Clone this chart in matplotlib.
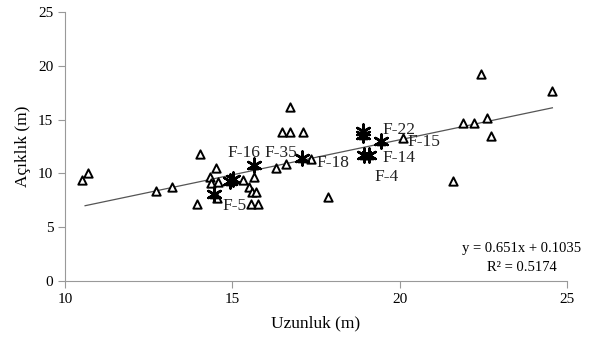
import matplotlib
matplotlib.use("Agg")
import matplotlib.pyplot as plt
import numpy as np

plt.rcParams["font.family"] = ["Liberation Serif", "DejaVu Serif"]

# triangle points (length, width)
tri_x = [10.5, 10.7, 12.72, 13.2, 13.96, 14.05, 14.33, 14.36, 14.5, 14.53, 14.58,
         15.33, 15.5, 15.6, 15.7, 15.56, 15.76, 15.66, 16.32, 16.62, 16.5, 16.72,
         17.1, 16.72, 17.34, 17.87, 20.1, 21.6, 21.9, 22.22, 22.62, 22.73, 22.43, 24.55]
tri_y = [9.38, 10.06, 8.36, 8.76, 7.2, 11.8, 9.7, 9.1, 10.5, 7.68, 9.2,
         9.4, 8.76, 8.26, 8.26, 7.2, 7.2, 9.7, 10.52, 10.86, 13.86, 13.86,
         13.86, 16.2, 11.33, 7.83, 13.25, 9.3, 14.73, 14.73, 15.16, 13.46, 19.2, 17.64]

# highlighted points
star_x = [14.46, 14.93, 15.03, 15.66, 17.07, 18.9, 18.92, 19.46, 18.95, 19.1]
star_y = [8.1, 9.3, 9.45, 10.77, 11.45, 13.6, 13.95, 13.03, 11.7, 11.7]

labels = ["F-16", "F-35", "F-18", "F-22", "F-15", "F-14", "F-4", "F-5"]
label_x = [14.87, 15.95, 17.53, 19.5, 20.25, 19.5, 19.26, 14.7]
label_y = [11.9, 11.9, 10.95, 14.0, 12.9, 11.4, 9.66, 7.0]

slope, intercept = 0.651, 0.1035
fit_x = [10.6, 24.57]

fig = plt.figure(figsize=(5.91, 3.42), dpi=100)
ax = fig.add_axes([0.110, 0.178, 0.849, 0.787])

ax.scatter(tri_x, tri_y, marker="^", s=36, facecolors="white",
           edgecolors="black", linewidths=1.4, zorder=3)
ax.scatter(star_x, star_y, marker="^", s=36, facecolors="black",
           edgecolors="black", linewidths=1.0, zorder=4)
ax.scatter(star_x, star_y, marker=(6, 2, 0), s=100, color="black",
           linewidths=1.8, zorder=4)

fx = np.array(fit_x)
ax.plot(fx, slope * fx + intercept, color="#555555", lw=0.9, zorder=2)

for t, x, y in zip(labels, label_x, label_y):
    ax.text(x, y, t, fontsize=12.5, ha="left", va="center", color="#222222", zorder=5)

ax.text(23.65, 3.06, "y = 0.651x + 0.1035", fontsize=10.5, ha="center", va="center")
ax.text(23.65, 1.3, "R² = 0.5174", fontsize=10.5, ha="center", va="center")

ax.set_xlim(10, 25)
ax.set_ylim(0, 25)
ax.set_xticks([10, 15, 20, 25])
ax.set_yticks([0, 5, 10, 15, 20, 25])
ax.tick_params(axis="both", labelsize=11, color="#999999", length=5, width=0.8)
for side in ["top", "right"]:
    ax.spines[side].set_visible(False)
for side in ["left", "bottom"]:
    ax.spines[side].set_color("#999999")
    ax.spines[side].set_linewidth(0.8)

ax.set_xlabel("Uzunluk (m)", fontsize=12.5, labelpad=7)
ax.set_ylabel("Açıklık (m)", fontsize=12.5, labelpad=5)

fig.savefig("out.png", dpi=100)
